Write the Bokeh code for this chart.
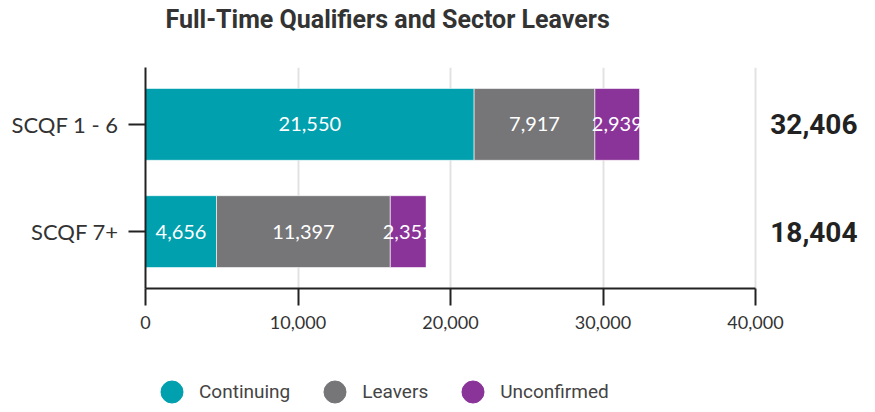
from bokeh.plotting import figure
from bokeh.layouts import column
from bokeh.models import (ColumnDataSource, FactorRange, Range1d, FixedTicker,
                          NumeralTickFormatter, Legend, LegendItem, Label)
from bokeh.core.properties import value
from bokeh.embed import file_html
from bokeh.resources import INLINE

title_text = "Full-Time Qualifiers and Sector Leavers"
categories = ["SCQF 1 - 6", "SCQF 7+"]
continuing = [21550, 4656]
leavers = [7917, 11397]
unconfirmed = [2939, 2351]
series_names = ["Continuing", "Leavers", "Unconfirmed"]
colors = ["#00a0ae", "#767578", "#8a3399"]
x_ticks = [0, 10000, 20000, 30000, 40000]

totals = [a + b + c for a, b, c in zip(continuing, leavers, unconfirmed)]
series = [continuing, leavers, unconfirmed]

W = 867
PX_PER_UNIT = 610 / x_ticks[-1]
LEFT, TOP, FRAME_BOTTOM = 145, 67, 288
HT = 44           # title strip height
H1 = 340 - HT     # main chart height
FRAME_W = W - LEFT - 5


def blank(height):
    f = figure(width=W, height=height, output_backend="svg", toolbar_location=None,
               x_range=Range1d(0, 1), y_range=Range1d(0, 1), min_border=0,
               x_axis_type=None, y_axis_type=None)
    f.outline_line_color = None
    f.xgrid.visible = False
    f.ygrid.visible = False
    return f


# title strip
tf = blank(HT)
tf.add_layout(Label(x=0, y=1 - 19 / HT, x_offset=20, text=title_text,
                    text_font="Roboto", text_font_size="25px", text_font_style="bold",
                    text_color="#333333", text_baseline="alphabetic"))

p = figure(width=W, height=H1, output_backend="svg", toolbar_location=None,
           y_range=FactorRange(factors=list(reversed(categories)), range_padding=0.03),
           x_range=Range1d(0, FRAME_W / PX_PER_UNIT),
           min_border_left=LEFT, min_border_right=5, min_border_top=TOP - HT,
           min_border_bottom=HT + H1 - FRAME_BOTTOM)
p.outline_line_color = None

# stacked bars
left = [0] * len(categories)
for name, vals, col in zip(series_names, series, colors):
    right = [l + v for l, v in zip(left, vals)]
    mid = [(l + r) / 2 for l, r in zip(left, right)]
    src = ColumnDataSource(dict(cat=categories, left=left, right=right, mid=mid,
                                lab=[f"{v:,}" for v in vals]))
    p.hbar(y="cat", left="left", right="right", height=0.67, source=src,
           fill_color=col, line_color="white", line_width=1, line_alpha=0.6)
    p.text(x="mid", y="cat", text="lab", source=src, text_align="center",
           text_baseline="middle", text_color="white", text_font=value("Lato"),
           text_font_size="20px")
    left = right

# clip labels that overflow the bar ends
mask_src = ColumnDataSource(dict(cat=categories, left=totals, right=[t + 1200 for t in totals]))
p.hbar(y="cat", left="left", right="right", height=0.72, source=mask_src,
       fill_color="white", line_color=None)

# totals on the right
tot_src = ColumnDataSource(dict(cat=categories, x=[x_ticks[-1]] * len(categories),
                                lab=[f"{t:,}" for t in totals]))
p.text(x="x", y="cat", text="lab", source=tot_src, x_offset=(857 - LEFT) - 610,
       text_align="right", text_baseline="middle", text_color="#222222",
       text_font=value("Roboto"), text_font_style="bold", text_font_size="28px")

# axes
p.xaxis.ticker = FixedTicker(ticks=x_ticks)
p.xaxis.formatter = NumeralTickFormatter(format="0,0")
p.xaxis.bounds = (x_ticks[0], x_ticks[-1])
p.xaxis.minor_tick_line_color = None
p.xaxis.major_tick_in = 0
p.xaxis.major_tick_out = 17
p.xaxis.axis_line_width = 2
p.xaxis.axis_line_color = "#222222"
p.xaxis.major_tick_line_width = 2
p.xaxis.major_tick_line_color = "#222222"
p.xaxis.major_label_text_font = "Lato"
p.xaxis.major_label_text_font_size = "18px"
p.xaxis.major_label_text_color = "#333333"
p.xaxis.major_label_standoff = 10

p.yaxis.major_tick_in = 0
p.yaxis.major_tick_out = 17
p.yaxis.axis_line_width = 2
p.yaxis.axis_line_color = "#222222"
p.yaxis.major_tick_line_width = 2
p.yaxis.major_tick_line_color = "#222222"
p.yaxis.major_label_text_font = "Lato"
p.yaxis.major_label_text_font_size = "22px"
p.yaxis.major_label_text_color = "#333333"
p.yaxis.major_label_standoff = 10

p.ygrid.grid_line_color = None
p.xgrid.grid_line_color = "#e2e2e2"
p.xgrid.grid_line_width = 2
p.xgrid.ticker = FixedTicker(ticks=x_ticks)

# legend strip below
H2 = 404 - HT - H1
lf = blank(H2)
nan = float("nan")
items = []
for name, col in zip(series_names, colors):
    r = lf.scatter(x=[nan], y=[nan], marker="circle", size=22, fill_color=col, line_color=col)
    items.append(LegendItem(label=name, renderers=[r]))
legend = Legend(items=items, orientation="horizontal", location=(-1, -15),
                glyph_width=55, glyph_height=55, label_standoff=0, spacing=17,
                padding=0, margin=0, border_line_color=None, background_fill_alpha=0,
                label_text_font="Roboto", label_text_font_size="19px",
                label_text_color="#444444")
lf.add_layout(legend, "center")

layout = column(tf, p, lf, spacing=0)
open("out.html", "w").write(file_html(layout, INLINE))
